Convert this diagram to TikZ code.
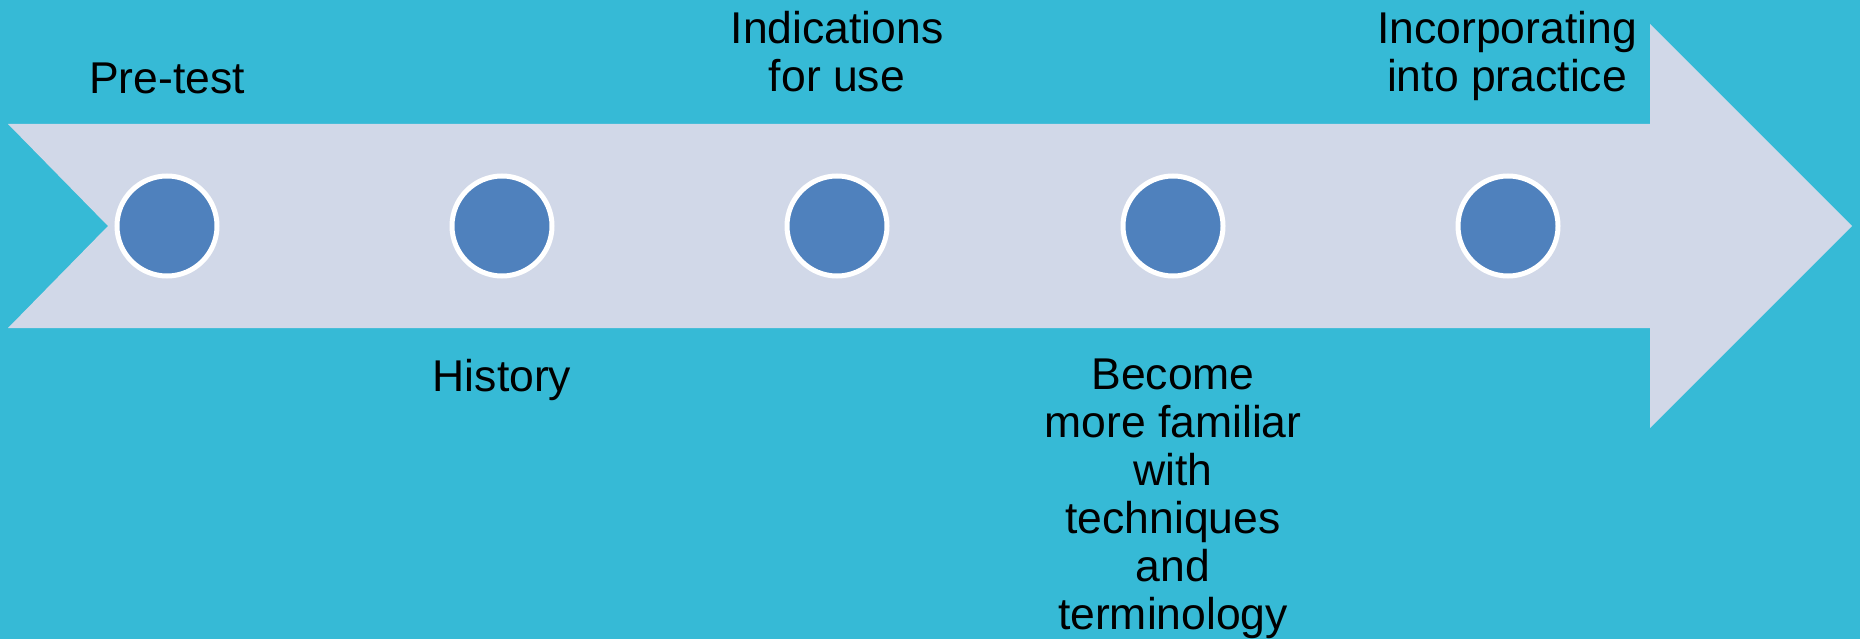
\documentclass[tikz,border=0pt]{standalone}
\usepackage{fontspec}
\setmainfont{Liberation Sans}
\definecolor{bgblue}{RGB}{54,186,214}
\definecolor{arrowfill}{RGB}{209,216,232}
\definecolor{dotblue}{RGB}{79,129,189}
\begin{document}
\begin{tikzpicture}[x=1pt,y=-1pt,
  dot/.style={circle,fill=dotblue,draw=white,line width=5pt,minimum size=100pt,inner sep=0pt},
  label/.style={align=center,inner sep=0pt,anchor=base,font=\fontsize{44.5}{48}\selectfont,text=black}]
\fill[bgblue] (0,0) rectangle (1860,639);
\useasboundingbox (0,0) rectangle (1860,639);
% big arrow
\fill[arrowfill] (8,124) -- (1650,124) -- (1650,24) -- (1852,226) -- (1650,428)
  -- (1650,328) -- (8,328) -- (108,226) -- cycle;
% dots
\node[dot] (d1) at (167,226) {};
\node[dot] (d2) at (502,226) {};
\node[dot] (d3) at (837,226) {};
\node[dot] (d4) at (1173,226) {};
\node[dot] (d5) at (1508,226) {};
% labels
\node[label] (t1) at (167,94) {Pre-test};
\node[label] (t2) at (502,391) {History};
\node[label] (t3) at (837,92) {Indications\\for use};
\node[label] (t4) at (1173,629) {Become\\more familiar\\with\\techniques\\and\\terminology};
\node[label] (t5) at (1507,92) {Incorporating\\into practice};
\end{tikzpicture}
\end{document}
